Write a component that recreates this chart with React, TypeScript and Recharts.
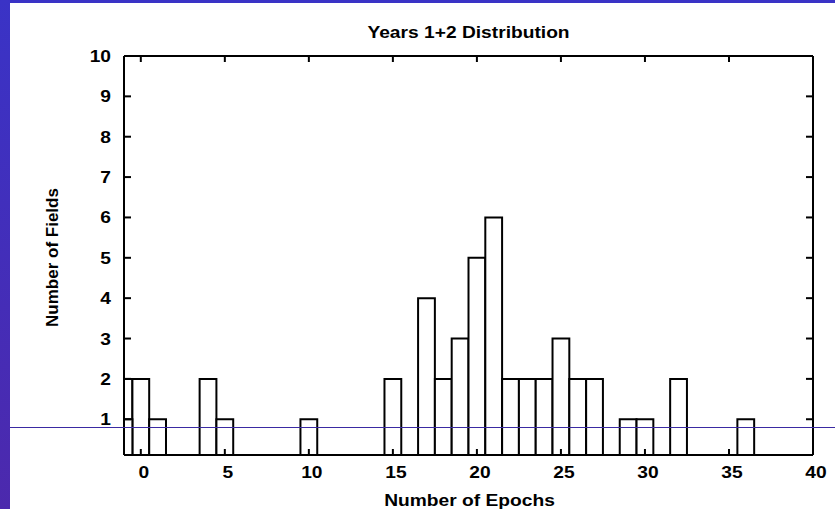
import { BarChart, Bar, XAxis, YAxis, Label } from "recharts"

// histogram: how many fields were observed for each epoch count
const epochs = [-1, 0, 1, 4, 5, 10, 15, 17, 18, 19, 20, 21, 22, 23, 24, 25, 26, 27, 29, 30, 32, 36]
const fields = [2, 2, 1, 2, 1, 1, 2, 4, 2, 3, 5, 6, 2, 2, 2, 3, 2, 2, 1, 1, 2, 1]

// second box drawn over the same bin
const repeatEpochs = [-1]
const repeatFields = [1]

const xTicks = [0, 5, 10, 15, 20, 25, 30, 35, 40]
const yTicks = [1, 2, 3, 4, 5, 6, 7, 8, 9, 10]

const X_DOMAIN: [number, number] = [-1, 40]
const Y_DOMAIN: [number, number] = [0.114, 10]

const W = 835
const H = 509
const margin = { top: 55, right: 21, left: 0, bottom: 0 }
const Y_AXIS_W = 124
const X_AXIS_H = 54
// top and right axes only carry the frame line and mirrored ticks
const MIRROR_SIZE = 1

// one bin per epoch, so bars fill the whole unit
const plotW = W - margin.left - margin.right - Y_AXIS_W - MIRROR_SIZE
const barSize = (plotW / (X_DOMAIN[1] - X_DOMAIN[0])) * 0.999

const data = epochs.map((e, i) => {
  const r = repeatEpochs.indexOf(e)
  return { epoch: e, count: fields[i], repeat: r >= 0 ? repeatFields[r] : null }
})

const font = {
  fontFamily: "'Liberation Sans', Arial, sans-serif",
  fontWeight: 700,
  fontSize: 17,
  fill: "#000",
}
const STRETCH = 1.13

// text widened horizontally, anchored at (x, y)
function Wide({ x, y, anchor, children }: { x: number; y: number; anchor: "start" | "middle" | "end"; children: any }) {
  return (
    <g transform={`translate(${x},${y}) scale(${STRETCH},1)`}>
      <text x={0} y={0} textAnchor={anchor} {...font}>
        {children}
      </text>
    </g>
  )
}

const BottomTick = (props: any) => {
  const { x, y, payload } = props
  return (
    <g>
      <line x1={x} y1={y} x2={x} y2={y - 6} stroke="#000" strokeWidth={2} />
      <Wide x={x + 3} y={y + 23} anchor="middle">
        {payload.value}
      </Wide>
    </g>
  )
}

const TopTick = (props: any) => {
  const { x, y } = props
  return <line x1={x} y1={y} x2={x} y2={y + 6} stroke="#000" strokeWidth={2} />
}

const LeftTick = (props: any) => {
  const { x, y, payload } = props
  return (
    <g>
      <line x1={x} y1={y} x2={x + 7} y2={y} stroke="#000" strokeWidth={2} />
      <Wide x={x - 13} y={y + 6} anchor="end">
        {payload.value}
      </Wide>
    </g>
  )
}

const RightTick = (props: any) => {
  const { x, y } = props
  return <line x1={x - 7} y1={y} x2={x} y2={y} stroke="#000" strokeWidth={2} />
}

export default function App() {
  return (
    <div style={{ position: "absolute", left: 0, top: 0, width: W, height: H, background: "#fff", overflow: "hidden" }}>
      <BarChart width={W} height={H} data={data} margin={margin}>
        <XAxis
          dataKey="epoch"
          type="number"
          domain={X_DOMAIN}
          ticks={xTicks}
          allowDataOverflow
          interval={0}
          height={X_AXIS_H}
          tickSize={0}
          tickMargin={0}
          tickLine={false}
          tick={BottomTick}
          axisLine={{ stroke: "#000", strokeWidth: 2 }}
        >
          <Label
            value="Number of Epochs"
            content={({ viewBox }: any) => (
              <Wide x={viewBox.x + viewBox.width / 2 + 1} y={506} anchor="middle">
                Number of Epochs
              </Wide>
            )}
          />
        </XAxis>
        <XAxis
          xAxisId="top"
          dataKey="epoch"
          type="number"
          orientation="top"
          domain={X_DOMAIN}
          ticks={xTicks}
          allowDataOverflow
          interval={0}
          height={MIRROR_SIZE}
          tickSize={0}
          tickMargin={0}
          tickLine={false}
          tick={TopTick}
          axisLine={{ stroke: "#000", strokeWidth: 2 }}
        >
          <Label
            value="Years 1+2 Distribution"
            content={({ viewBox }: any) => (
              <Wide x={viewBox.x + viewBox.width / 2} y={38} anchor="middle">
                Years 1+2 Distribution
              </Wide>
            )}
          />
        </XAxis>
        <YAxis
          type="number"
          domain={Y_DOMAIN}
          ticks={yTicks}
          allowDataOverflow
          interval={0}
          width={Y_AXIS_W}
          tickSize={0}
          tickMargin={0}
          tickLine={false}
          tick={LeftTick}
          axisLine={{ stroke: "#000", strokeWidth: 2 }}
        >
          <Label
            value="Number of Fields"
            content={({ viewBox }: any) => (
              <text
                x={58}
                y={viewBox.y + viewBox.height / 2 + 2}
                transform={`rotate(-90, 58, ${viewBox.y + viewBox.height / 2 + 2})`}
                textAnchor="middle"
                {...font}
              >
                Number of Fields
              </text>
            )}
          />
        </YAxis>
        <YAxis
          yAxisId="right"
          type="number"
          orientation="right"
          domain={Y_DOMAIN}
          ticks={yTicks}
          allowDataOverflow
          interval={0}
          width={MIRROR_SIZE}
          tickSize={0}
          tickMargin={0}
          tickLine={false}
          tick={RightTick}
          axisLine={{ stroke: "#000", strokeWidth: 2 }}
        />
        <Bar
          dataKey="count"
          barSize={barSize}
          fill="#fff"
          stroke="#000"
          strokeWidth={2}
          isAnimationActive={false}
        />
        <Bar
          dataKey="repeat"
          xAxisId="top"
          barSize={barSize}
          fill="#fff"
          stroke="#000"
          strokeWidth={2}
          isAnimationActive={false}
        />
      </BarChart>
      {/* slide frame: top band, left strip and the rule across the page */}
      <div style={{ position: "absolute", left: 0, top: 0, width: W, height: 3, background: "#3a33c6" }} />
      <div
        style={{
          position: "absolute",
          left: 0,
          top: 0,
          width: 10,
          height: H,
          background: "linear-gradient(to bottom, #3a33c6, #4c29ad)",
        }}
      />
      <div style={{ position: "absolute", left: 10, top: 427, width: W - 10, height: 1, background: "#3a2aa2" }} />
    </div>
  )
}
